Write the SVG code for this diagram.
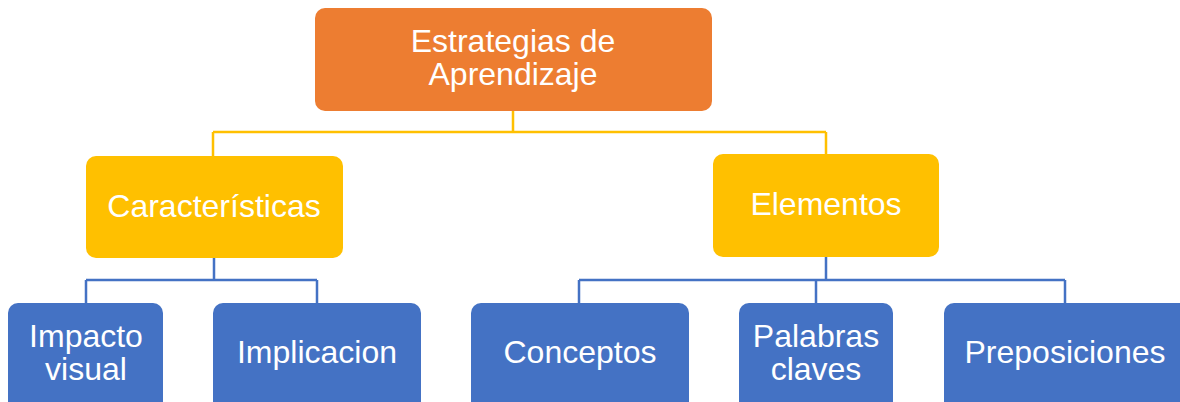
<svg xmlns="http://www.w3.org/2000/svg" width="1180" height="402" viewBox="0 0 1180 402">
<style>
.orange{fill:#ED7D31}
.yellow{fill:#FFC000}
.blue{fill:#4472C4}
.lbl{font-family:"Liberation Sans",Arial,sans-serif;font-size:32px;fill:#FFFFFF;text-anchor:middle}
.cy{fill:none;stroke:#FFC000;stroke-width:2.5}
.cb{fill:none;stroke:#4472C4;stroke-width:2.5}
</style>
<rect width="1180" height="402" fill="#FFFFFF"/>
<g id="connectors">
<path class="cy" d="M513,111 V132 M213,132 H826 M213,132 V156 M826,132 V154"/>
<path class="cb" d="M214,258 V280 M86,280 H317 M86,280 V303 M317,280 V303"/>
<path class="cb" d="M826,257 V280 M579,280 H1065 M579,280 V303 M816,280 V303 M1065,280 V303"/>
</g>
<g id="n-estrategias">
<rect class="orange" x="315" y="8" width="397" height="103" rx="10"/>
<text class="lbl" x="513" y="52">Estrategias de</text>
<text class="lbl" x="513" y="85">Aprendizaje</text>
</g>
<g id="n-caracteristicas">
<rect class="yellow" x="86" y="156" width="257" height="102" rx="10"/>
<text class="lbl" x="214" y="217">Características</text>
</g>
<g id="n-elementos">
<rect class="yellow" x="713" y="154" width="226" height="103" rx="10"/>
<text class="lbl" x="826" y="215">Elementos</text>
</g>
<g id="n-impacto">
<rect class="blue" x="8" y="303" width="155" height="110" rx="10"/>
<text class="lbl" x="86" y="347">Impacto</text>
<text class="lbl" x="86" y="380">visual</text>
</g>
<g id="n-implicacion">
<rect class="blue" x="213" y="303" width="208" height="110" rx="10"/>
<text class="lbl" x="317" y="363">Implicacion</text>
</g>
<g id="n-conceptos">
<rect class="blue" x="471" y="303" width="218" height="110" rx="10"/>
<text class="lbl" x="580" y="363">Conceptos</text>
</g>
<g id="n-palabras">
<rect class="blue" x="739" y="303" width="154" height="110" rx="10"/>
<text class="lbl" x="816" y="347">Palabras</text>
<text class="lbl" x="816" y="380">claves</text>
</g>
<g id="n-preposiciones">
<rect class="blue" x="944" y="303" width="246" height="110" rx="10"/>
<text class="lbl" x="1065" y="363">Preposiciones</text>
</g>
</svg>
